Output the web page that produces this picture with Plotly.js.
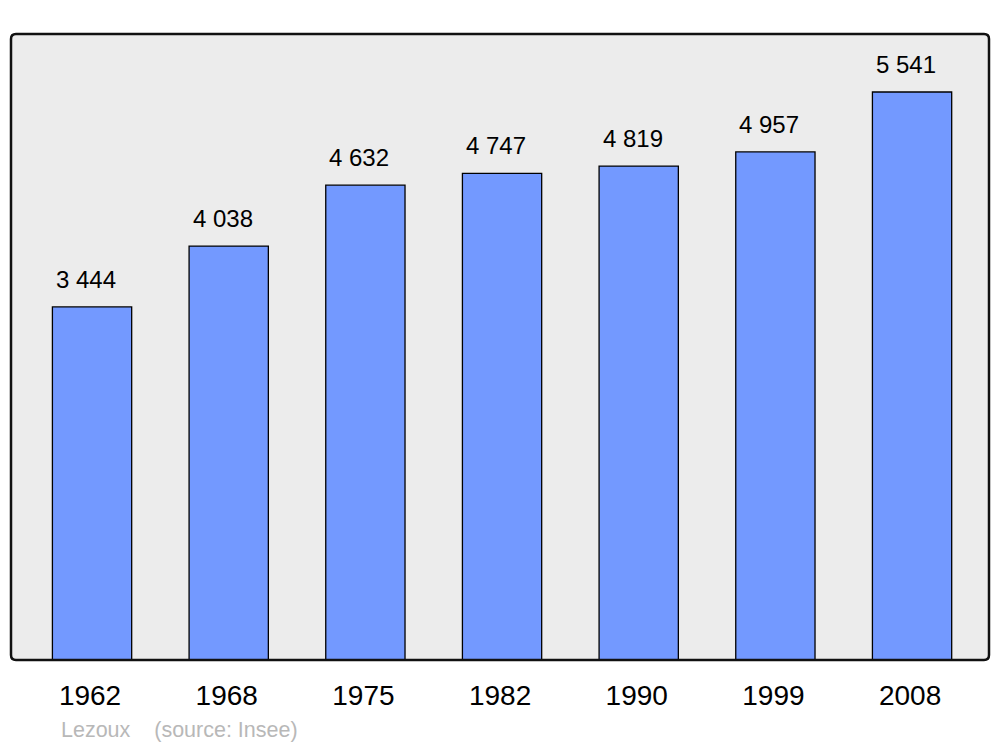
<!DOCTYPE html>
<html><head><meta charset="utf-8">
<script src="https://cdn.plot.ly/plotly-3.0.1.min.js"></script>
<style>body{margin:0;background:#fff}#c{width:1000px;height:747px}</style>
</head><body><div id="c"></div>
<script>
const years = ['1962','1968','1975','1982','1990','1999','2008'];
const population = [3444, 4038, 4632, 4747, 4819, 4957, 5541];
const labels = ['3 444','4 038','4 632','4 747','4 819','4 957','5 541'];
const sourceText = 'Lezoux\u00a0\u00a0\u00a0\u00a0(source: Insee)';

const font = 'Liberation Sans, Arial, sans-serif';
const rx = 5/978, ry = 5/626;
const framePath = `M ${rx},0 L ${1-rx},0 Q 1,0 1,${ry} L 1,${1-ry} Q 1,1 ${1-rx},1 L ${rx},1 Q 0,1 0,${1-ry} L 0,${ry} Q 0,0 ${rx},0 Z`;

const data = [{
  type: 'bar', x: years, y: population, width: 0.58,
  marker: {color: '#7399ff', line: {color: '#000', width: 1.3}},
  hoverinfo: 'skip'
}];
const annotations = years.map((yr, i) => ({
  x: i, y: population[i], text: labels[i], showarrow: false,
  xanchor: 'center', yanchor: 'bottom', yshift: 12, xshift: -6,
  font: {family: font, size: 24, color: '#000'}
}));
annotations.push({
  xref: 'paper', yref: 'paper', x: 48/978, y: -70/626, xanchor: 'left', yanchor: 'middle',
  text: sourceText, showarrow: false,
  font: {family: font, size: 21.5, color: '#b8b8b8'}
});
const layout = {
  width: 1000, height: 747,
  margin: {l: 11, r: 11, t: 34, b: 87, pad: 0},
  paper_bgcolor: '#fff', plot_bgcolor: '#ececec',
  showlegend: false,
  xaxis: {type: 'category', range: [-0.593, 6.563], showgrid: false, zeroline: false,
    showline: false, ticks: '', ticklabelstandoff: 16, ticklabelshift: -2,
    tickfont: {family: font, size: 28, color: '#000'}, automargin: false},
  yaxis: {range: [0, 6107], showgrid: false, zeroline: false, showticklabels: false,
    showline: false, ticks: '', automargin: false},
  annotations: annotations,
  shapes: [{type: 'path', xref: 'paper', yref: 'paper', path: framePath,
    line: {color: '#111', width: 2.5}, fillcolor: 'rgba(0,0,0,0)', layer: 'above'}]
};
Plotly.newPlot('c', data, layout, {staticPlot: true, displayModeBar: false});
</script></body></html>
